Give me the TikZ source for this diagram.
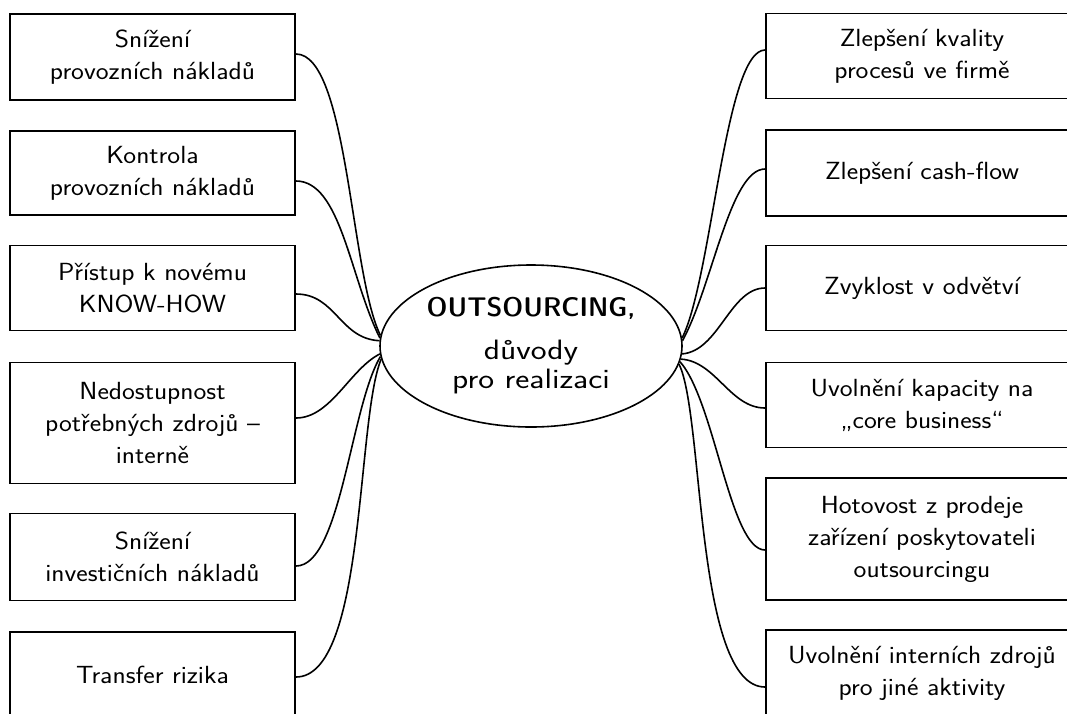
\documentclass[tikz,border=0pt]{standalone}
\usepackage{graphicx}
\usetikzlibrary{shapes.geometric}
% text in this chart is set slightly wide
\newcommand{\wl}[1]{\scalebox{1.1}[1]{#1}}
\newcommand{\wc}[1]{\scalebox{1.2}[1]{#1}}
\begin{document}
\begin{tikzpicture}[x=1pt,y=-1pt,
  reason/.style={draw,line width=1.9pt,align=center,inner sep=0pt,
    font=\sffamily\fontsize{24.8}{32}\selectfont},
  lbox/.style={reason,minimum width=285pt},
  rbox/.style={reason,minimum width=312pt},
  hub/.style={draw,ellipse,line width=1.6pt,minimum width=302pt,minimum height=162pt,
    inner sep=0pt,align=center,font=\sffamily\fontsize{28}{29}\selectfont},
  link/.style={line width=1.6pt}]
\useasboundingbox (0,0) rectangle (1067,713);
\clip (0,0) rectangle (1067,713);

% central topic
\node[hub] (c) at (531,346)
  {\scalebox{1.11}[1]{\fontseries{sbc}\fontsize{27}{28}\selectfont OUTSOURCING,}\\[14pt]\wc{důvody}\\\wc{pro realizaci}};

% reasons on the left
\node[lbox,minimum height=86pt]  (l1) at (152.5,57)  {\wl{Snížení}\\\wl{provozních nákladů}};
\node[lbox,minimum height=84pt]  (l2) at (152.5,173) {\wl{Kontrola}\\\wl{provozních nákladů}};
\node[lbox,minimum height=85pt]  (l3) at (152.5,288) {\wl{Přístup k novému}\\\wl{KNOW-HOW}};
\node[lbox,minimum height=121pt] (l4) at (152.5,423) {\wl{Nedostupnost}\\\wl{potřebných zdrojů –}\\\wl{interně}};
\node[lbox,minimum height=87pt]  (l5) at (152.5,557) {\wl{Snížení}\\\wl{investičních nákladů}};
\node[lbox,minimum height=86pt]  (l6) at (152.5,675) {\wl{Transfer rizika}};

% reasons on the right
\node[rbox,minimum height=85pt]  (r1) at (922,56)  {\wl{Zlepšení kvality}\\\wl{procesů ve firmě}};
\node[rbox,minimum height=86pt]  (r2) at (922,173) {\wl{Zlepšení cash-flow}};
\node[rbox,minimum height=85pt]  (r3) at (922,288) {\wl{Zvyklost v odvětví}};
\node[rbox,minimum height=85pt]  (r4) at (922,405) {\wl{Uvolnění kapacity na}\\\wl{„core business“}};
\node[rbox,minimum height=122pt] (r5) at (922,539) {\wl{Hotovost z prodeje}\\\wl{zařízení poskytovateli}\\\wl{outsourcingu}};
\node[rbox,minimum height=86pt]  (r6) at (922,673) {\wl{Uvolnění interních zdrojů}\\\wl{pro jiné aktivity}};

% connectors, left side
\draw[link] ([yshift=3pt]l1.east) .. controls +(52,0) and +(-30,-60) .. (c.176);
\draw[link] ([yshift=-8pt]l2.east) .. controls +(45,0) and +(-30,-60) .. (c.177);
\draw[link] ([yshift=-6pt]l3.east) .. controls +(40,0) and +(-40,-2) .. (c.178);
\draw[link] ([yshift=5pt]l4.east) .. controls +(35,0) and +(-30,15) .. (c.183);
\draw[link] ([yshift=-9pt]l5.east) .. controls +(45,0) and +(-30,50) .. (c.184);
\draw[link] ([yshift=-2pt]l6.east) .. controls +(70,0) and +(-25,60) .. (c.185);

% connectors, right side
\draw[link] ([yshift=6pt]r1.west) .. controls +(-40,0) and +(30,-60) .. (c.3);
\draw[link] ([yshift=4pt]r2.west) .. controls +(-35,0) and +(30,-55) .. (c.2);
\draw[link] (r3.west) .. controls +(-35,0) and +(37,-3) .. (c.357);
\draw[link] ([yshift=-3pt]r4.west) .. controls +(-35,0) and +(35,2) .. (c.355);
\draw[link] ([yshift=-11pt]r5.west) .. controls +(-35,0) and +(35,40) .. (c.354);
\draw[link] ([yshift=-14pt]r6.west) .. controls +(-70,0) and +(25,50) .. (c.353);
\end{tikzpicture}
\end{document}
